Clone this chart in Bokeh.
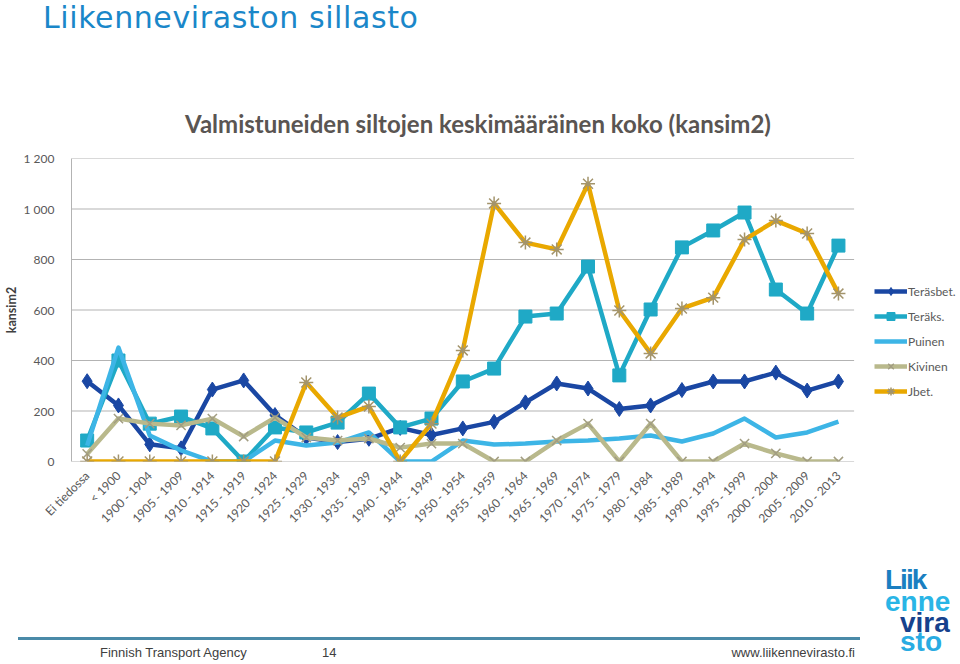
import math
from bokeh.plotting import figure
from bokeh.layouts import column
from bokeh.models import Range1d, FixedTicker, Legend, LegendItem, Div
from bokeh.embed import file_html
from bokeh.resources import INLINE

periods = ["Ei tiedossa", "< 1900", "1900 - 1904", "1905 - 1909", "1910 - 1914",
           "1915 - 1919", "1920 - 1924", "1925 - 1929", "1930 - 1934", "1935 - 1939",
           "1940 - 1944", "1945 - 1949", "1950 - 1954", "1955 - 1959", "1960 - 1964",
           "1965 - 1969", "1970 - 1974", "1975 - 1979", "1980 - 1984", "1985 - 1989",
           "1990 - 1994", "1995 - 1999", "2000 - 2004", "2005 - 2009", "2010 - 2013"]

terasbet = [318, 222, 68, 52, 285, 321, 184, 95, 77, 90, 133, 105, 131, 157, 234,
            309, 289, 208, 222, 283, 317, 317, 352, 281, 317]
teraks = [83, 400, 150, 178, 131, 0, 135, 115, 154, 269, 135, 170, 317, 368, 574,
          586, 772, 341, 602, 848, 915, 986, 681, 586, 855]
puinen = [63, 451, 103, 44, 0, 0, 83, 63, 75, 115, 0, 0, 83, 67, 71,
          79, 83, 91, 103, 79, 111, 170, 95, 115, 158]
kivinen = [30, 170, 150, 143, 170, 99, 174, 95, 83, 91, 55, 71, 71, 0, 0,
           83, 150, 0, 150, 0, 0, 71, 32, 0, 0]
jbet = [0, 0, 0, 0, 0, 0, 0, 313, 174, 218, 0, 150, 440, 1022, 867,
        840, 1100, 598, 428, 606, 649, 879, 954, 903, 665]

series_names = ["Teräsbet.", "Teräks.", "Puinen", "Kivinen", "Jbet."]
y_ticks = [0, 200, 400, 600, 800, 1000, 1200]
y_tick_labels = ["0", "200", "400", "600", "800", "1 000", "1 200"]

main_title = "Liikenneviraston sillasto"
chart_title = "Valmistuneiden siltojen keskimääräinen koko (kansim2)"
y_title = "kansim2"
footer_left = "Finnish Transport Agency"
footer_page = "14"
footer_url = "www.liikennevirasto.fi"
logo_parts = ["Liik", "enne", "vira", "sto"]

GRAY_TXT = "#595959"
GRID = "#b3b3b3"
FONT = "Lato"
W = 960


def span(text, style):
    return ('<span style="position:absolute;white-space:nowrap;line-height:1;'
            + style + '">' + text + '</span>')


# ---------- header (page y 0..145) ----------
header_html = (
    '<div style="position:relative;width:960px;height:145px;overflow:visible;">'
    + span(main_title, "left:43px;top:3px;font-family:'DejaVu Sans';font-size:30px;"
           "letter-spacing:0.6px;color:#1a87c9;")
    + span(chart_title, "left:0px;width:956px;text-align:center;top:112px;font-family:Lato;"
           "font-weight:bold;font-size:24px;color:#5a5552;")
    + '</div>')
header = Div(text=header_html, width=W, height=145, margin=0)

# ---------- main chart (page y 145..545) ----------
n = len(periods)
idx = list(range(n))
PLOT_LEFT, PLOT_W = 66, 787          # plotted area of the reference, in pixels
x_end = -0.5 + n * (W - PLOT_LEFT) / PLOT_W   # room on the right for the legend

p = figure(width=W, height=400, x_range=Range1d(-0.5, x_end),
           y_range=Range1d(0, 1200), output_backend="svg", toolbar_location=None,
           min_border_left=PLOT_LEFT, min_border_right=0, min_border_top=13,
           min_border_bottom=84)
p.outline_line_color = None
p.background_fill_color = "white"
p.border_fill_color = "white"
p.xgrid.grid_line_color = None
p.ygrid.grid_line_color = None

# horizontal gridlines limited to the category span
p.segment(x0=[-0.5] * len(y_ticks), x1=[n - 0.5] * len(y_ticks), y0=y_ticks, y1=y_ticks,
          line_color=GRID, line_width=1, level="underlay")

p.yaxis.ticker = FixedTicker(ticks=y_ticks)
p.yaxis.major_label_overrides = {t: l for t, l in zip(y_ticks, y_tick_labels)}
p.yaxis.axis_line_color = GRID
p.yaxis.major_tick_line_color = None
p.yaxis.minor_tick_line_color = None
p.yaxis.major_label_text_font = FONT
p.yaxis.major_label_text_font_size = "12px"
p.yaxis.major_label_text_color = GRAY_TXT
p.yaxis.major_label_standoff = 11
p.yaxis.axis_label = y_title
p.yaxis.axis_label_text_font = FONT
p.yaxis.axis_label_text_font_size = "12.5px"
p.yaxis.axis_label_text_font_style = "bold"
p.yaxis.axis_label_text_color = "#404040"
p.yaxis.axis_label_standoff = 2

p.xaxis.ticker = FixedTicker(ticks=idx)
p.xaxis.major_label_overrides = {i: s for i, s in zip(idx, periods)}
p.xaxis.axis_line_color = None
p.xaxis.major_tick_line_color = None
p.xaxis.minor_tick_line_color = None
p.xaxis.major_label_orientation = math.pi / 4
p.xaxis.major_label_text_font = FONT
p.xaxis.major_label_text_font_size = "12px"
p.xaxis.major_label_text_color = GRAY_TXT
p.xaxis.major_label_standoff = 6

colors = ["#1a47a3", "#1fa9c6", "#3db5e6", "#b9b98c", "#e9a800"]
data = [terasbet, teraks, puinen, kivinen, jbet]
items = []
for i, (name, vals, col) in enumerate(zip(series_names, data, colors)):
    rs = [p.line(idx, vals, line_color=col, line_width=4.5, line_join="round")]
    if i == 0:
        rs.append(p.scatter(idx, vals, marker="diamond", size=15, fill_color=col, line_color=col))
    elif i == 1:
        rs.append(p.scatter(idx, vals, marker="square", size=13, fill_color=col, line_color=col))
    elif i == 3:
        rs.append(p.scatter(idx, vals, marker="x", size=13, line_color="#a29d82", line_width=1.5))
    elif i == 4:
        rs.append(p.scatter(idx, vals, marker="asterisk", size=14, line_color="#a3946c", line_width=1.5))
    items.append(LegendItem(label=name, renderers=rs))

legend = Legend(items=items, location=(803, 60), glyph_width=33, glyph_height=20,
                label_height=20, spacing=5, padding=0, margin=0, label_standoff=1,
                label_text_font=FONT, label_text_font_size="12px",
                label_text_color=GRAY_TXT, border_line_color=None,
                background_fill_alpha=0)
p.add_layout(legend)

# ---------- footer (page y 545..664) ----------
ft = "font-family:'Liberation Sans';font-size:13px;color:#404040;top:101px;"
logo_left = [885, 885, 900, 900]
logo_top = [25, 47, 68, 87]
logo_col = ["#1a7fc1", "#29b5e6", "#16418c", "#29abe2"]
logo_ls = [-2, 0, 0, 0]
logo_html = "".join(
    '<span style="position:absolute;white-space:nowrap;line-height:20px;height:20px;'
    "left:%dpx;top:%dpx;font-family:'Liberation Sans';font-weight:bold;"
    'font-size:28px;letter-spacing:%dpx;color:%s;">%s</span>' % (lx, lt, ls, lc, t)
    for t, lx, lt, ls, lc in zip(logo_parts, logo_left, logo_top, logo_ls, logo_col))
footer_html = (
    '<div style="position:relative;width:960px;height:119px;overflow:visible;">'
    '<div style="position:absolute;left:18px;top:92px;width:842px;height:3px;'
    'background:#4a8aa8;"></div>'
    + span(footer_left, "left:100px;" + ft)
    + span(footer_page, "left:322px;" + ft)
    + span(footer_url, "right:105px;" + ft)
    + logo_html
    + '</div>')
footer = Div(text=footer_html, width=W, height=119, margin=0)

layout = column(header, p, footer, spacing=0)
open("out.html", "w").write(file_html(layout, INLINE))
